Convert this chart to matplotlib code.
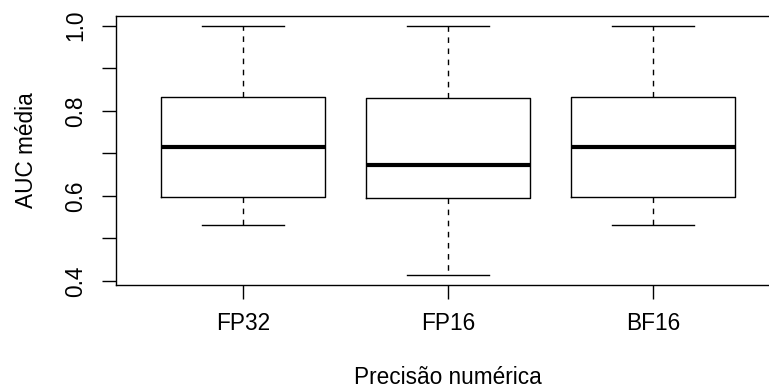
import matplotlib
matplotlib.use("Agg")
import matplotlib.pyplot as plt

# valores
labels = ["FP32", "FP16", "BF16"]
whis_lo = [0.532, 0.414, 0.532]
q1 = [0.598, 0.596, 0.598]
medians = [0.716, 0.673, 0.716]
q3 = [0.833, 0.830, 0.833]
whis_hi = [1.0, 1.0, 1.0]

y_ticks = [0.4, 0.5, 0.6, 0.7, 0.8, 0.9, 1.0]
y_ticklabels = ["0.4", "", "0.6", "", "0.8", "", "1.0"]

plt.rcParams["font.family"] = ["Liberation Sans", "DejaVu Sans"]

W, H = 769, 390
fig = plt.figure(figsize=(W / 100, H / 100), dpi=100)
fig.patch.set_facecolor("white")
# eixo como no R: a borda direita fica fora da imagem
ax = fig.add_axes([116 / W, (H - 285) / H, (780 - 116) / W, 269 / H])

stats = []
for i, lab in enumerate(labels):
    stats.append({
        "label": lab,
        "whislo": whis_lo[i],
        "q1": q1[i],
        "med": medians[i],
        "q3": q3[i],
        "whishi": whis_hi[i],
        "fliers": [],
    })

ax.bxp(
    stats,
    positions=[1, 2, 3],
    widths=0.8,
    capwidths=0.4,
    showfliers=False,
    boxprops=dict(color="black", linewidth=1.0),
    whiskerprops=dict(color="black", linewidth=1.0, linestyle=(0, (4, 4))),
    capprops=dict(color="black", linewidth=1.0),
    medianprops=dict(color="black", linewidth=3.0, solid_capstyle="butt"),
)

ax.set_xlim(0.38, 3.62)
ax.set_ylim(0.3906, 1.0228)
ax.set_yticks(y_ticks)
ax.set_yticklabels(y_ticklabels, rotation=90, va="center")
ax.set_xticks([1, 2, 3])
ax.set_xticklabels(labels)

for sp in ax.spines.values():
    sp.set_linewidth(1.0)
    sp.set_color("black")

ax.tick_params(axis="both", direction="out", length=10, width=1.0,
               labelsize=16.3, colors="black")
ax.tick_params(axis="y", pad=11)
ax.tick_params(axis="x", pad=9.4)

ax.set_xlabel("Precisão numérica", fontsize=16.3)
ax.set_ylabel("AUC média", fontsize=16.3)
ax.xaxis.set_label_coords(0.5, -0.301)
ax.yaxis.set_label_coords(-0.1175, 0.5)

fig.savefig("out.png", dpi=100)
